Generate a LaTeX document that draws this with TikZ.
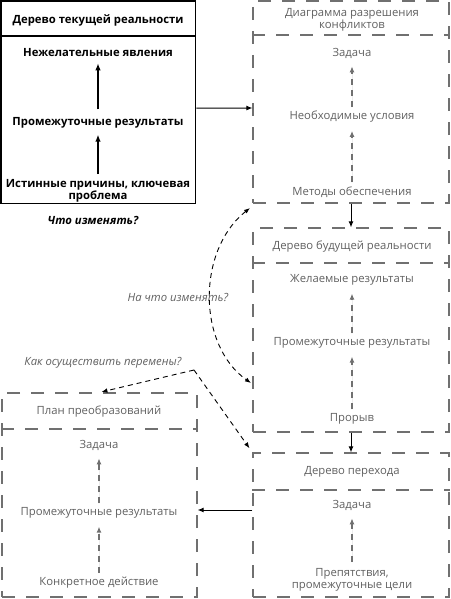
\documentclass[tikz,border=0pt]{standalone}
\usepackage{fontspec}
\setmainfont{Open Sans}
\usetikzlibrary{arrows.meta}

\definecolor{boxgray}{RGB}{112,112,112}
\definecolor{textgray}{RGB}{96,96,96}

\tikzset{
	crtbox/.style={draw=black, line width=1.6pt, inner sep=0pt},
	dashbox/.style={draw=boxgray, line width=1.2pt, dash pattern=on 13pt off 11pt, inner sep=0pt},
	crttext/.style={font=\fontsize{11.3}{12.5}\selectfont\bfseries, align=center, inner sep=2pt},
	graytext/.style={text=textgray, font=\fontsize{11.3}{12.5}\selectfont, align=center, inner sep=2pt},
	solidarrow/.style={-{Latex[length=6pt,width=5pt]}, line width=1pt},
	crtarrow/.style={-{Latex[length=7pt,width=5.5pt]}, line width=1.4pt},
	innerarrow/.style={-{Latex[length=6pt,width=5pt]}, draw=boxgray, fill=boxgray, line width=1.2pt, dash pattern=on 6pt off 5pt},
	qarrow/.style={-{Latex[length=6pt,width=4.5pt]}, line width=0.9pt, dash pattern=on 5pt off 4pt},
}

\begin{document}
\begin{tikzpicture}[x=1pt, y=-1pt]
	\useasboundingbox (0, 0) rectangle (450, 599);
	
	% boxes
	\node[crtbox, minimum width=194.5pt, minimum height=202.5pt] (crt) at (98.25, 102.25) {};
	\node[dashbox, minimum width=196pt, minimum height=202pt] (crd) at (351, 102) {};
	\node[dashbox, minimum width=196pt, minimum height=204pt] (frt) at (351, 330) {};
	\node[dashbox, minimum width=196pt, minimum height=144pt] (trt) at (351, 525) {};
	\node[dashbox, minimum width=195pt, minimum height=204pt] (plan) at (99.5, 495) {};
	
	% title rows
	\draw[line width=1.6pt] (crt.west |- 0, 36) -- (crt.east |- 0, 36);
	\draw[dashbox] (crd.west |- 0, 35) -- (crd.east |- 0, 35);
	\draw[dashbox] (frt.west |- 0, 263) -- (frt.east |- 0, 263);
	\draw[dashbox] (trt.west |- 0, 490) -- (trt.east |- 0, 490);
	\draw[dashbox] (plan.west |- 0, 429) -- (plan.east |- 0, 429);
	
	% current reality tree
	\node[crttext] (crt0) at (98, 20) {Дерево текущей реальности};
	\node[crttext] (crt1) at (98, 53) {Нежелательные явления};
	\node[crttext] (crt2) at (98, 123) {Промежуточные результаты};
	\node[crttext] (crt3) at (98, 191) {Истинные причины, ключевая\\проблема};
	\node[font=\fontsize{11.3}{12.5}\selectfont\bfseries\itshape] (what) at (93, 220) {Что изменять?};
	
	% conflict resolution diagram
	\node[graytext] (crd0) at (352, 20) {Диаграмма разрешения\\конфликтов};
	\node[graytext] (crd1) at (352, 53) {Задача};
	\node[graytext] (crd2) at (352, 117) {Необходимые условия};
	\node[graytext] (crd3) at (352, 192) {Методы обеспечения};
	
	% future reality tree
	\node[graytext] (frt0) at (352, 247) {Дерево будущей реальности};
	\node[graytext] (frt1) at (352, 280) {Желаемые результаты};
	\node[graytext] (frt2) at (352, 343) {Промежуточные результаты};
	\node[graytext] (frt3) at (352, 419) {Прорыв};
	
	% transition tree
	\node[graytext] (trt0) at (352, 472) {Дерево перехода};
	\node[graytext] (trt1) at (352, 505) {Задача};
	\node[graytext] (trt2) at (352, 580) {Препятствия,\\промежуточные цели};
	
	% transformation plan
	\node[graytext] (plan0) at (99, 412) {План преобразований};
	\node[graytext] (plan1) at (99, 445) {Задача};
	\node[graytext] (plan2) at (99, 513) {Промежуточные результаты};
	\node[graytext] (plan3) at (99, 583) {Конкретное действие};
	
	% arrows inside
	\draw[crtarrow, shorten <=6pt, shorten >=4pt] (crt2) -- (crt1);
	\draw[crtarrow, shorten <=3pt, shorten >=4pt] (crt3) -- (crt2);
	\draw[innerarrow, shorten <=2pt, shorten >=6pt] (crd2) -- (crd1);
	\draw[innerarrow, shorten <=2pt, shorten >=6pt] (crd3) -- (crd2);
	\draw[innerarrow, shorten <=2pt, shorten >=6pt] (frt2) -- (frt1);
	\draw[innerarrow, shorten <=2pt, shorten >=6pt] (frt3) -- (frt2);
	\draw[innerarrow, shorten <=4pt, shorten >=6pt] (trt2) -- (trt1);
	\draw[innerarrow, shorten <=2pt, shorten >=6pt] (plan2) -- (plan1);
	\draw[innerarrow, shorten <=2pt, shorten >=6pt] (plan3) -- (plan2);
	
	% arrows between boxes
	\draw[solidarrow] ([yshift=-6pt]crt.east) -- ([yshift=-6pt]crd.west);
	\draw[solidarrow] (crd.south) -- (frt.north);
	\draw[solidarrow] (frt.south) -- (trt.north);
	\draw[solidarrow] ([yshift=15pt]trt.west) -- ([yshift=15pt]trt.west -| plan.east);
	
	% questions
	\coordinate (qtop) at (250, 208);
	\coordinate (qbot) at (251, 383);
	\draw[qarrow, {Latex[length=6pt,width=4.5pt]}-{Latex[length=6pt,width=4.5pt]}] (qtop) .. controls (197, 250) and (197, 345) .. (qbot);
	\node[text=textgray, font=\fontsize{11.3}{12.5}\selectfont\itshape] (towhat) at (178, 297) {На что изменять?};
	
	\node[text=textgray, font=\fontsize{11.3}{12.5}\selectfont\itshape] (how) at (103, 363) {Как осуществить перемены?};
	\coordinate (hbend) at (194, 370);
	\draw[qarrow, shorten >=2pt] (hbend) -- (plan.north);
	\draw[qarrow, shorten >=5pt] (hbend) -- (trt.north west);
\end{tikzpicture}
\end{document}
